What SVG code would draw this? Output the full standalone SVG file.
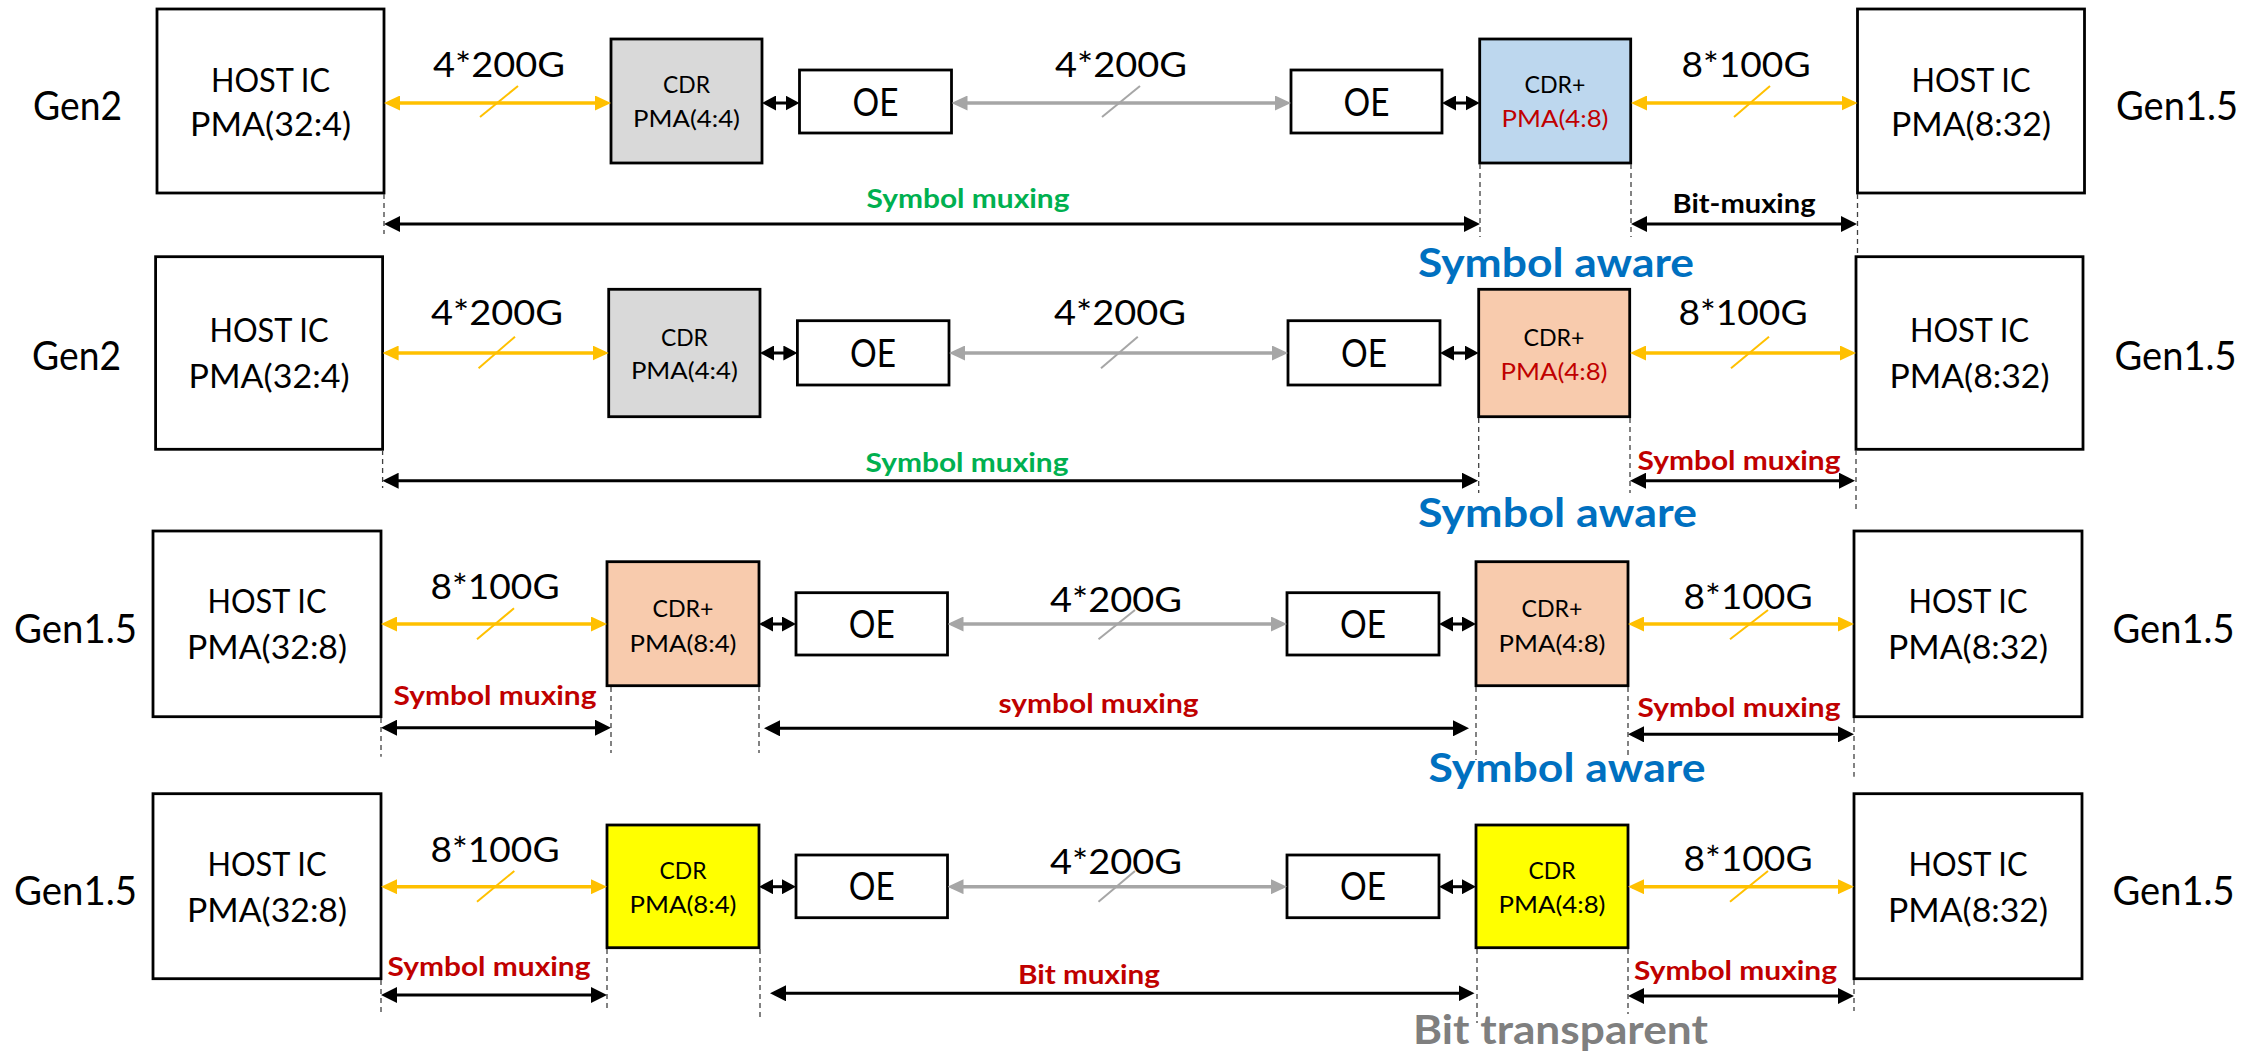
<svg xmlns="http://www.w3.org/2000/svg" width="2267" height="1056" viewBox="0 0 2267 1056">
<style>
text{font-family:Lato,"Liberation Sans",sans-serif;text-anchor:middle;fill:#000}
.box{stroke:#000;stroke-width:2.8}
.w{fill:#fff}.g{fill:#d9d9d9}.b{fill:#bdd7ee}.p{fill:#f8cbad}.y{fill:#ffff00}
.gen{font-size:40px}.host{font-size:32px}.rate{font-size:34px}.cdr{font-size:23px}.oe{font-size:38px}
.lbl{font-size:26px;font-weight:bold}.aware{font-size:40px;font-weight:bold}
.red{fill:#c00000}.grn{fill:#00b050}.blu{fill:#0070c0}.gry{fill:#7f7f7f}
.ya{stroke:#ffc000;stroke-width:3.6;fill:none;marker-start:url(#my);marker-end:url(#my)}
.ga{stroke:#a6a6a6;stroke-width:3.6;fill:none;marker-start:url(#mg);marker-end:url(#mg)}
.ka{stroke:#000;stroke-width:3;fill:none;marker-start:url(#mk);marker-end:url(#mk)}
.sa{stroke:#000;stroke-width:3;fill:none;marker-start:url(#ms);marker-end:url(#ms)}
.ys{stroke:#ffc000;stroke-width:2}.gs{stroke:#a6a6a6;stroke-width:2}
.d{stroke:#404040;stroke-width:1.3;stroke-dasharray:5 4}
</style>
<defs>
<marker id="my" viewBox="0 0 16 15" refX="12" refY="7.5" markerWidth="16" markerHeight="15" markerUnits="userSpaceOnUse" orient="auto-start-reverse"><path d="M0,0L16,7.5L0,15z" fill="#ffc000"/></marker>
<marker id="mg" viewBox="0 0 16 15" refX="12" refY="7.5" markerWidth="16" markerHeight="15" markerUnits="userSpaceOnUse" orient="auto-start-reverse"><path d="M0,0L16,7.5L0,15z" fill="#a6a6a6"/></marker>
<marker id="mk" viewBox="0 0 16 16" refX="12" refY="8" markerWidth="16" markerHeight="16" markerUnits="userSpaceOnUse" orient="auto-start-reverse"><path d="M0,0L16,8L0,16z" fill="#000"/></marker>
<marker id="ms" viewBox="0 0 14 15" refX="10" refY="7.5" markerWidth="14" markerHeight="15" markerUnits="userSpaceOnUse" orient="auto-start-reverse"><path d="M0,0L14,7.5L0,15z" fill="#000"/></marker>
</defs>
<rect width="2267" height="1056" fill="#fff"/>

<!-- ROW 1 -->
<g id="r1-gen-left"><text class="gen" x="77.5" y="120" textLength="89" lengthAdjust="spacingAndGlyphs">Gen2</text></g>
<g id="r1-host-left"><rect class="box w" x="157" y="9" width="227" height="184"/>
<text class="host" x="270.5" y="92" textLength="119" lengthAdjust="spacingAndGlyphs">HOST IC</text>
<text class="host" x="270.5" y="136" textLength="161" lengthAdjust="spacingAndGlyphs">PMA(32:4)</text></g>
<g id="r1-cdr-left"><rect class="box g" x="611" y="39" width="151" height="124"/>
<text class="cdr" x="686.5" y="93" textLength="47" lengthAdjust="spacingAndGlyphs">CDR</text>
<text class="cdr" x="686.5" y="127" textLength="107" lengthAdjust="spacingAndGlyphs">PMA(4:4)</text></g>
<g id="r1-oe-left"><rect class="box w" x="799.5" y="70" width="152" height="63"/>
<text class="oe" x="875.5" y="116" textLength="46" lengthAdjust="spacingAndGlyphs">OE</text></g>
<g id="r1-oe-right"><rect class="box w" x="1291" y="70" width="151" height="63"/>
<text class="oe" x="1366.5" y="116" textLength="46" lengthAdjust="spacingAndGlyphs">OE</text></g>
<g id="r1-cdr-right"><rect class="box b" x="1479.7" y="39" width="151" height="124"/>
<text class="cdr" x="1555" y="93" textLength="61" lengthAdjust="spacingAndGlyphs">CDR+</text>
<text class="cdr red" x="1555" y="127" textLength="107" lengthAdjust="spacingAndGlyphs">PMA(4:8)</text></g>
<g id="r1-host-right"><rect class="box w" x="1857.5" y="9" width="227" height="184"/>
<text class="host" x="1971" y="92" textLength="119" lengthAdjust="spacingAndGlyphs">HOST IC</text>
<text class="host" x="1971" y="136" textLength="160" lengthAdjust="spacingAndGlyphs">PMA(8:32)</text></g>
<g id="r1-gen-right"><text class="gen" x="2177" y="120" textLength="122" lengthAdjust="spacingAndGlyphs">Gen1.5</text></g>
<g id="r1-aware"><text class="aware blu" x="1556" y="277" textLength="276" lengthAdjust="spacingAndGlyphs">Symbol aware</text></g>

<!-- ROW 2 -->
<g id="r2-gen-left"><text class="gen" x="76.5" y="370" textLength="89" lengthAdjust="spacingAndGlyphs">Gen2</text></g>
<g id="r2-host-left"><rect class="box w" x="155.6" y="256.7" width="227" height="192.6"/>
<text class="host" x="269" y="341.7" textLength="119" lengthAdjust="spacingAndGlyphs">HOST IC</text>
<text class="host" x="269" y="388" textLength="161" lengthAdjust="spacingAndGlyphs">PMA(32:4)</text></g>
<g id="r2-cdr-left"><rect class="box g" x="608.7" y="289.3" width="151.3" height="127.4"/>
<text class="cdr" x="684.4" y="346" textLength="47" lengthAdjust="spacingAndGlyphs">CDR</text>
<text class="cdr" x="684.4" y="379.3" textLength="107" lengthAdjust="spacingAndGlyphs">PMA(4:4)</text></g>
<g id="r2-oe-left"><rect class="box w" x="797.4" y="320.7" width="151.6" height="64.3"/>
<text class="oe" x="873" y="366.7" textLength="46" lengthAdjust="spacingAndGlyphs">OE</text></g>
<g id="r2-oe-right"><rect class="box w" x="1288" y="320.7" width="152" height="64.3"/>
<text class="oe" x="1364" y="366.7" textLength="46" lengthAdjust="spacingAndGlyphs">OE</text></g>
<g id="r2-cdr-right"><rect class="box p" x="1478.7" y="289.3" width="151" height="127.4"/>
<text class="cdr" x="1554" y="346" textLength="61" lengthAdjust="spacingAndGlyphs">CDR+</text>
<text class="cdr red" x="1554" y="380" textLength="107" lengthAdjust="spacingAndGlyphs">PMA(4:8)</text></g>
<g id="r2-host-right"><rect class="box w" x="1856" y="256.7" width="227" height="192.6"/>
<text class="host" x="1969.5" y="341.7" textLength="119" lengthAdjust="spacingAndGlyphs">HOST IC</text>
<text class="host" x="1969.5" y="388" textLength="160" lengthAdjust="spacingAndGlyphs">PMA(8:32)</text></g>
<g id="r2-gen-right"><text class="gen" x="2175.5" y="370" textLength="122" lengthAdjust="spacingAndGlyphs">Gen1.5</text></g>
<g id="r2-aware"><text class="aware blu" x="1557.5" y="527" textLength="279" lengthAdjust="spacingAndGlyphs">Symbol aware</text></g>

<!-- ROW 3 -->
<g id="r3-gen-left"><text class="gen" x="75.5" y="642.7" textLength="123" lengthAdjust="spacingAndGlyphs">Gen1.5</text></g>
<g id="r3-host-left"><rect class="box w" x="153" y="531" width="228" height="185.7"/>
<text class="host" x="267" y="613.3" textLength="119" lengthAdjust="spacingAndGlyphs">HOST IC</text>
<text class="host" x="267" y="659.3" textLength="160" lengthAdjust="spacingAndGlyphs">PMA(32:8)</text></g>
<g id="r3-cdr-left"><rect class="box p" x="607" y="561.7" width="152" height="124"/>
<text class="cdr" x="683" y="616.7" textLength="61" lengthAdjust="spacingAndGlyphs">CDR+</text>
<text class="cdr" x="683" y="651.7" textLength="107" lengthAdjust="spacingAndGlyphs">PMA(8:4)</text></g>
<g id="r3-oe-left"><rect class="box w" x="796" y="592.7" width="151.5" height="62.3"/>
<text class="oe" x="871.75" y="638.3" textLength="46" lengthAdjust="spacingAndGlyphs">OE</text></g>
<g id="r3-oe-right"><rect class="box w" x="1287" y="592.7" width="152" height="62.3"/>
<text class="oe" x="1363" y="638.3" textLength="46" lengthAdjust="spacingAndGlyphs">OE</text></g>
<g id="r3-cdr-right"><rect class="box p" x="1476" y="561.7" width="152" height="124"/>
<text class="cdr" x="1552" y="616.7" textLength="61" lengthAdjust="spacingAndGlyphs">CDR+</text>
<text class="cdr" x="1552" y="651.7" textLength="107" lengthAdjust="spacingAndGlyphs">PMA(4:8)</text></g>
<g id="r3-host-right"><rect class="box w" x="1854" y="531" width="228" height="185.7"/>
<text class="host" x="1968" y="613.3" textLength="119" lengthAdjust="spacingAndGlyphs">HOST IC</text>
<text class="host" x="1968" y="659.3" textLength="160" lengthAdjust="spacingAndGlyphs">PMA(8:32)</text></g>
<g id="r3-gen-right"><text class="gen" x="2173.5" y="642.7" textLength="122" lengthAdjust="spacingAndGlyphs">Gen1.5</text></g>
<g id="r3-aware"><text class="aware blu" x="1567" y="781.7" textLength="277" lengthAdjust="spacingAndGlyphs">Symbol aware</text></g>

<!-- ROW 4 -->
<g id="r4-gen-left"><text class="gen" x="75.5" y="905.3" textLength="123" lengthAdjust="spacingAndGlyphs">Gen1.5</text></g>
<g id="r4-host-left"><rect class="box w" x="153" y="793.7" width="228" height="185"/>
<text class="host" x="267" y="876" textLength="119" lengthAdjust="spacingAndGlyphs">HOST IC</text>
<text class="host" x="267" y="922" textLength="160" lengthAdjust="spacingAndGlyphs">PMA(32:8)</text></g>
<g id="r4-cdr-left"><rect class="box y" x="607" y="825" width="152" height="122.7"/>
<text class="cdr" x="683" y="878.7" textLength="47" lengthAdjust="spacingAndGlyphs">CDR</text>
<text class="cdr" x="683" y="912.7" textLength="107" lengthAdjust="spacingAndGlyphs">PMA(8:4)</text></g>
<g id="r4-oe-left"><rect class="box w" x="796" y="855" width="151.5" height="62.7"/>
<text class="oe" x="871.75" y="900" textLength="46" lengthAdjust="spacingAndGlyphs">OE</text></g>
<g id="r4-oe-right"><rect class="box w" x="1287" y="855" width="152" height="62.7"/>
<text class="oe" x="1363" y="900" textLength="46" lengthAdjust="spacingAndGlyphs">OE</text></g>
<g id="r4-cdr-right"><rect class="box y" x="1476" y="825" width="152" height="122.7"/>
<text class="cdr" x="1552" y="878.7" textLength="47" lengthAdjust="spacingAndGlyphs">CDR</text>
<text class="cdr" x="1552" y="912.7" textLength="107" lengthAdjust="spacingAndGlyphs">PMA(4:8)</text></g>
<g id="r4-host-right"><rect class="box w" x="1854" y="793.7" width="228" height="185"/>
<text class="host" x="1968" y="876" textLength="119" lengthAdjust="spacingAndGlyphs">HOST IC</text>
<text class="host" x="1968" y="922" textLength="160" lengthAdjust="spacingAndGlyphs">PMA(8:32)</text></g>
<g id="r4-gen-right"><text class="gen" x="2173.5" y="905.3" textLength="122" lengthAdjust="spacingAndGlyphs">Gen1.5</text></g>
<g id="r4-transparent"><text class="aware gry" x="1560.5" y="1044" textLength="295" lengthAdjust="spacingAndGlyphs">Bit transparent</text></g>

<g id="connectors">
<!-- row 1 -->
<line class="ya" x1="388" y1="103" x2="607" y2="103"/>
<line class="ys" x1="480" y1="117" x2="518" y2="86"/>
<text class="rate" x="499" y="77" textLength="132" lengthAdjust="spacingAndGlyphs">4*200G</text>
<line class="sa" x1="766" y1="103" x2="795.5" y2="103"/>
<line class="ga" x1="955.5" y1="103" x2="1287" y2="103"/>
<line class="gs" x1="1102" y1="117" x2="1140" y2="86"/>
<text class="rate" x="1121" y="77" textLength="132" lengthAdjust="spacingAndGlyphs">4*200G</text>
<line class="sa" x1="1446" y1="103" x2="1475.7" y2="103"/>
<line class="ya" x1="1635" y1="103" x2="1853.5" y2="103"/>
<line class="ys" x1="1734" y1="117" x2="1770" y2="86"/>
<text class="rate" x="1746" y="77" textLength="129" lengthAdjust="spacingAndGlyphs">8*100G</text>
<line class="ka" x1="388" y1="224" x2="1476" y2="224"/>
<text class="lbl grn" x="968" y="208" textLength="203" lengthAdjust="spacingAndGlyphs">Symbol muxing</text>
<line class="ka" x1="1635" y1="224" x2="1853" y2="224"/>
<text class="lbl" x="1744" y="213" textLength="143" lengthAdjust="spacingAndGlyphs">Bit-muxing</text>
<line class="d" x1="384" y1="194" x2="384" y2="234"/>
<line class="d" x1="1480" y1="164" x2="1480" y2="237"/>
<line class="d" x1="1631" y1="164" x2="1631" y2="237"/>
<line class="d" x1="1857.5" y1="194" x2="1857.5" y2="255"/>
<!-- row 2 -->
<line class="ya" x1="386.6" y1="353" x2="604.7" y2="353"/>
<line class="ys" x1="478.6" y1="368.3" x2="515" y2="336.7"/>
<text class="rate" x="497" y="325" textLength="132" lengthAdjust="spacingAndGlyphs">4*200G</text>
<line class="sa" x1="764" y1="353" x2="793.4" y2="353"/>
<line class="ga" x1="953" y1="353" x2="1284" y2="353"/>
<line class="gs" x1="1101" y1="368.3" x2="1137.8" y2="336.7"/>
<text class="rate" x="1120" y="325" textLength="132" lengthAdjust="spacingAndGlyphs">4*200G</text>
<line class="sa" x1="1444" y1="353" x2="1474.7" y2="353"/>
<line class="ya" x1="1634" y1="353" x2="1852" y2="353"/>
<line class="ys" x1="1731" y1="368.3" x2="1769" y2="336.7"/>
<text class="rate" x="1743" y="325" textLength="129" lengthAdjust="spacingAndGlyphs">8*100G</text>
<line class="ka" x1="386.6" y1="480.7" x2="1474" y2="480.7"/>
<text class="lbl grn" x="967" y="471.7" textLength="203" lengthAdjust="spacingAndGlyphs">Symbol muxing</text>
<line class="ka" x1="1634" y1="480.7" x2="1851" y2="480.7"/>
<text class="lbl red" x="1739" y="470" textLength="203" lengthAdjust="spacingAndGlyphs">Symbol muxing</text>
<line class="d" x1="382.6" y1="450" x2="382.6" y2="488"/>
<line class="d" x1="1478.7" y1="418" x2="1478.7" y2="493"/>
<line class="d" x1="1630" y1="418" x2="1630" y2="493"/>
<line class="d" x1="1856" y1="450" x2="1856" y2="513"/>
<!-- row 3 -->
<line class="ya" x1="385" y1="624" x2="603" y2="624"/>
<line class="ys" x1="477" y1="639.3" x2="514" y2="608.3"/>
<text class="rate" x="495" y="599.3" textLength="129" lengthAdjust="spacingAndGlyphs">8*100G</text>
<line class="sa" x1="763" y1="624" x2="792" y2="624"/>
<line class="ga" x1="951.5" y1="624" x2="1283" y2="624"/>
<line class="gs" x1="1098.5" y1="639.3" x2="1135" y2="610"/>
<text class="rate" x="1116" y="611.7" textLength="132" lengthAdjust="spacingAndGlyphs">4*200G</text>
<line class="sa" x1="1443" y1="624" x2="1472" y2="624"/>
<line class="ya" x1="1632" y1="624" x2="1850" y2="624"/>
<line class="ys" x1="1730" y1="639.3" x2="1768" y2="610"/>
<text class="rate" x="1748" y="609.3" textLength="129" lengthAdjust="spacingAndGlyphs">8*100G</text>
<line class="ka" x1="385" y1="727.7" x2="607" y2="727.7"/>
<text class="lbl red" x="495" y="705" textLength="203" lengthAdjust="spacingAndGlyphs">Symbol muxing</text>
<line class="ka" x1="768" y1="728.3" x2="1465" y2="728.3"/>
<text class="lbl red" x="1098.5" y="713.3" textLength="200" lengthAdjust="spacingAndGlyphs">symbol muxing</text>
<line class="ka" x1="1632" y1="734.3" x2="1850" y2="734.3"/>
<text class="lbl red" x="1739" y="716.7" textLength="203" lengthAdjust="spacingAndGlyphs">Symbol muxing</text>
<line class="d" x1="381" y1="718" x2="381" y2="756.7"/>
<line class="d" x1="611" y1="687" x2="611" y2="753"/>
<line class="d" x1="759" y1="687" x2="759" y2="753"/>
<line class="d" x1="1476" y1="687" x2="1476" y2="760"/>
<line class="d" x1="1628" y1="687" x2="1628" y2="756.7"/>
<line class="d" x1="1854" y1="718" x2="1854" y2="776.7"/>
<!-- row 4 -->
<line class="ya" x1="385" y1="886.7" x2="603" y2="886.7"/>
<line class="ys" x1="477" y1="901.7" x2="514.3" y2="871"/>
<text class="rate" x="495" y="862" textLength="129" lengthAdjust="spacingAndGlyphs">8*100G</text>
<line class="sa" x1="763" y1="886.7" x2="792" y2="886.7"/>
<line class="ga" x1="951.5" y1="886.7" x2="1283" y2="886.7"/>
<line class="gs" x1="1098.5" y1="901.7" x2="1135" y2="871"/>
<text class="rate" x="1116" y="874.3" textLength="132" lengthAdjust="spacingAndGlyphs">4*200G</text>
<line class="sa" x1="1443" y1="886.7" x2="1472" y2="886.7"/>
<line class="ya" x1="1632" y1="886.7" x2="1850" y2="886.7"/>
<line class="ys" x1="1730" y1="901.7" x2="1768" y2="871"/>
<text class="rate" x="1748" y="871" textLength="129" lengthAdjust="spacingAndGlyphs">8*100G</text>
<line class="ka" x1="385" y1="995" x2="603" y2="995"/>
<text class="lbl red" x="489" y="976" textLength="203" lengthAdjust="spacingAndGlyphs">Symbol muxing</text>
<line class="ka" x1="774" y1="993.3" x2="1470.5" y2="993.3"/>
<text class="lbl red" x="1089" y="984.3" textLength="142" lengthAdjust="spacingAndGlyphs">Bit muxing</text>
<line class="ka" x1="1632" y1="996" x2="1850" y2="996"/>
<text class="lbl red" x="1735.5" y="980" textLength="203" lengthAdjust="spacingAndGlyphs">Symbol muxing</text>
<line class="d" x1="381" y1="980" x2="381" y2="1012.7"/>
<line class="d" x1="607" y1="949" x2="607" y2="1009"/>
<line class="d" x1="760" y1="949" x2="760" y2="1019"/>
<line class="d" x1="1477" y1="949" x2="1477" y2="1023"/>
<line class="d" x1="1628" y1="949" x2="1628" y2="1014"/>
<line class="d" x1="1854" y1="980" x2="1854" y2="1011"/>
</g>
</svg>
